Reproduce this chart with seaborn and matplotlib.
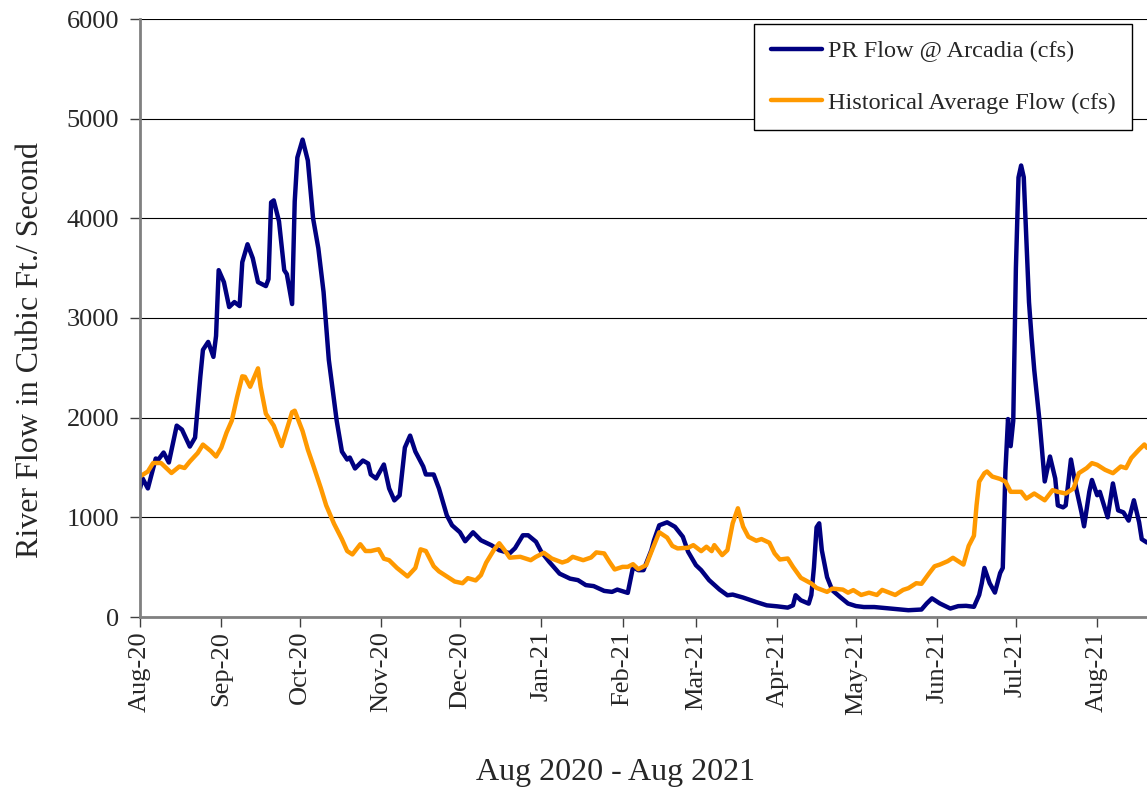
import pandas as pd
import matplotlib.pyplot as plt
import matplotlib.dates as mdates
import seaborn as sns

# days since 2020-08-01, flow in cfs
pr_days = [0, 1, 3, 6, 7, 9, 11, 14, 16, 19, 21, 23, 24, 26, 28, 29, 30, 32, 34, 36,
           38, 39, 41, 43, 45, 48, 49, 50, 51, 53, 55, 56, 58, 59, 60, 62, 64, 66, 68, 70,
           72, 75, 77, 79, 80, 82, 85, 87, 88, 90, 93, 95, 97, 99, 101, 103, 105, 108, 109, 112,
           114, 117, 119, 122, 124, 127, 130, 134, 137, 141, 143, 146, 148, 151, 153, 156, 160, 164, 167, 170,
           173, 177, 180, 182, 186, 188, 190, 192, 195, 196, 198, 201, 204, 207, 209, 212, 214, 217, 221, 224,
           226, 230, 235, 239, 243, 247, 249, 250, 252, 255, 256, 257, 258, 259, 260, 262, 264, 267, 270, 273,
           276, 280, 286, 293, 298, 300, 302, 305, 309, 312, 315, 318, 320, 321, 322, 324, 326, 328, 329, 330,
           331, 332, 333, 334, 335, 336, 337, 339, 340, 341, 343, 345, 347, 349, 350, 352, 353, 355, 357, 359,
           360, 362, 363, 365, 366, 369, 371, 373, 375, 377, 379, 381, 382, 384]
pr_flow = [1290, 1390, 1290, 1590, 1580, 1650, 1550, 1920, 1880, 1710, 1800, 2410, 2680, 2760, 2610, 2820, 3480, 3360, 3110, 3160,
           3120, 3560, 3740, 3600, 3360, 3320, 3390, 4160, 4180, 3970, 3480, 3440, 3140, 4170, 4610, 4790, 4580, 4000, 3700, 3260,
           2580, 1970, 1660, 1580, 1600, 1490, 1570, 1540, 1430, 1390, 1530, 1290, 1170, 1220, 1700, 1820, 1660, 1510, 1430, 1430,
           1290, 1020, 920, 850, 760, 850, 770, 720, 670, 640, 690, 820, 820, 755, 655, 555, 435, 385, 370, 320,
           310, 262, 252, 275, 242, 500, 470, 470, 670, 770, 920, 950, 905, 805, 655, 520, 470, 370, 275, 218,
           225, 195, 150, 117, 107, 94, 117, 218, 168, 134, 220, 500, 900, 940, 670, 400, 268, 200, 135, 110,
           100, 100, 85, 68, 75, 136, 187, 136, 85, 109, 112, 102, 221, 339, 492, 339, 245, 441, 492, 1460,
           1986, 1714, 1969, 3496, 4410, 4530, 4413, 3160, 2800, 2480, 1970, 1360, 1610, 1390, 1120, 1100, 1120, 1580, 1290, 1050,
           910, 1256, 1375, 1222, 1256, 1000, 1340, 1070, 1050, 967, 1171, 950, 781, 747]

hist_days = [0, 3, 5, 8, 10, 12, 15, 17, 19, 22, 24, 27, 29, 31, 33, 35, 37, 39, 40, 42,
             45, 46, 48, 51, 54, 56, 58, 59, 62, 64, 66, 69, 71, 74, 77, 79, 81, 84, 86, 88,
             91, 93, 95, 98, 102, 105, 107, 109, 112, 114, 117, 120, 123, 125, 128, 130, 132, 135, 137, 139,
             141, 145, 149, 151, 154, 157, 161, 163, 165, 169, 172, 174, 177, 179, 181, 184, 186, 188, 190, 193,
             195, 198, 201, 203, 205, 209, 211, 214, 216, 218, 219, 222, 224, 226, 228, 230, 232, 235, 237, 240,
             242, 244, 247, 249, 252, 256, 258, 262, 264, 268, 270, 272, 275, 278, 281, 283, 288, 291, 293, 296,
             298, 301, 303, 305, 308, 310, 312, 314, 316, 318, 319, 320, 322, 323, 325, 328, 330, 332, 336, 338,
             341, 345, 348, 350, 353, 356, 358, 361, 363, 365, 368, 371, 374, 376, 378, 381, 383, 384]
hist_flow = [1410, 1460, 1545, 1545, 1495, 1445, 1510, 1495, 1560, 1645, 1730, 1665, 1610, 1700, 1850, 1970, 2205, 2415, 2410, 2310,
             2495, 2310, 2040, 1920, 1715, 1885, 2055, 2070, 1865, 1680, 1527, 1290, 1120, 935, 780, 662, 628, 730, 662, 662,
             680, 585, 570, 492, 407, 492, 679, 662, 509, 458, 407, 356, 339, 390, 367, 420, 545, 675, 740, 671,
             595, 604, 570, 604, 644, 587, 547, 564, 604, 570, 597, 648, 638, 554, 477, 503, 503, 530, 480, 520,
             654, 850, 797, 713, 688, 695, 721, 661, 705, 661, 721, 621, 671, 940, 1091, 906, 805, 765, 782, 745,
             638, 577, 587, 503, 393, 336, 292, 252, 285, 275, 244, 270, 221, 244, 221, 272, 221, 272, 289, 339,
             333, 441, 509, 526, 560, 594, 560, 526, 713, 815, 1120, 1358, 1443, 1460, 1409, 1385, 1358, 1256, 1256, 1188,
             1239, 1171, 1273, 1256, 1239, 1290, 1443, 1494, 1544, 1527, 1477, 1443, 1510, 1494, 1595, 1680, 1731, 1697]

series_names = ['PR Flow @ Arcadia (cfs)', 'Historical Average Flow (cfs)']
colors = ['#000080', '#FF9900']

start = pd.Timestamp('2020-08-01')
df = pd.concat([
    pd.DataFrame({'date': start + pd.to_timedelta(pr_days, unit='D'), 'flow': pr_flow, 'series': series_names[0]}),
    pd.DataFrame({'date': start + pd.to_timedelta(hist_days, unit='D'), 'flow': hist_flow, 'series': series_names[1]}),
])

sns.set_style('white')
plt.rcParams['font.family'] = ['Liberation Serif', 'DejaVu Serif']

fig = plt.figure(figsize=(11.47, 7.87), dpi=100)
ax = fig.add_axes([140 / 1147, 1 - 617 / 787, 1 - 140 / 1147, 598 / 787])

sns.lineplot(data=df, x='date', y='flow', hue='series', hue_order=series_names,
             palette=colors, linewidth=3.2, estimator=None, sort=False, ax=ax)

ax.set_ylim(0, 6000)
ax.set_yticks(range(0, 6001, 1000))
ax.set_xlim(start, start + pd.Timedelta(days=384))
ax.xaxis.set_major_locator(mdates.MonthLocator())
ax.xaxis.set_major_formatter(mdates.DateFormatter('%b-%y'))
ax.grid(axis='y', color='black', linewidth=0.8)
ax.set_axisbelow(True)

for side in ['top', 'right']:
    ax.spines[side].set_visible(False)
for side in ['left', 'bottom']:
    ax.spines[side].set_color('#808080')
    ax.spines[side].set_linewidth(2)

ax.tick_params(axis='both', which='major', labelsize=19, length=7, width=1,
               color='#404040', direction='out', left=True, bottom=True)
ax.tick_params(axis='y', pad=8)
ax.tick_params(axis='x', labelrotation=90, pad=3)

ax.set_ylabel('River Flow in Cubic Ft./ Second', fontsize=23)
ax.yaxis.set_label_coords(-0.094, 0.446)
ax.set_xlabel('Aug 2020 - Aug 2021', fontsize=23)
ax.xaxis.set_label_coords(0.472, -0.236)

leg = ax.legend(loc='upper right', bbox_to_anchor=(0.985, 0.992), borderaxespad=0,
                fontsize=17.5, frameon=True, fancybox=False, framealpha=1,
                edgecolor='black', handlelength=2.1, handletextpad=0.25,
                labelspacing=1.22, borderpad=0.67)
leg.get_frame().set_linewidth(1)
for line in leg.get_lines():
    line.set_linewidth(3.2)

fig.savefig('out.png', dpi=100)
